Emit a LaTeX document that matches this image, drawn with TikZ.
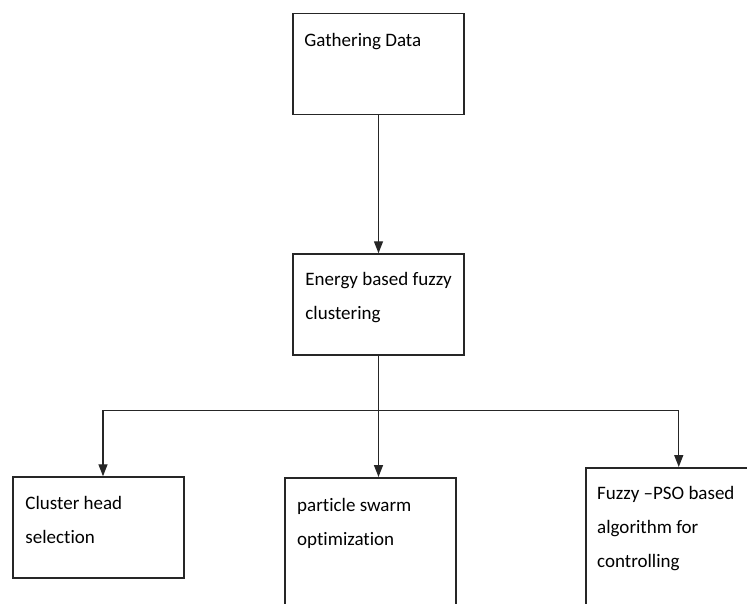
\documentclass[tikz,border=0pt]{standalone}
\usepackage{fontspec}
\setmainfont{Carlito}[Ligatures={NoCommon}]
\usetikzlibrary{positioning,arrows.meta}

\begin{document}
\begin{tikzpicture}[x=1pt,y=-1pt,
    box/.style={draw=black!85, line width=1.5pt, minimum width=171pt,
      minimum height=101pt, inner sep=0pt},
    lbl/.style={anchor=base west, align=left, inner sep=0pt,
      font=\fontsize{19}{34}\selectfont},
    flow/.style={draw=black!85, line width=1.4pt,
      -{Triangle[length=12pt,width=9pt]}}]
        \clip (0,0) rectangle (747,603);

        % boxes
        \node[box] (gather) at (378.5,64) {};
        \node[box, below=138pt of gather] (energy) {};
        \node[box] (cluster) at (98.5,527.5) {};
        \node[box, minimum height=150pt, anchor=north west] (pso) at (284,477) {};
        \node[box, minimum height=160pt, anchor=north west] (fuzzy) at (585,467) {};

        % texts (anchored at the baseline of the last line)
        \node[lbl] (gathertxt) at ([shift={(12,34)}]gather.north west) {Gathering Data};
        \node[lbl] (energytxt) at ([shift={(13,66)}]energy.north west)
          {Energy based fuzzy\\clustering};
        \node[lbl] (clustertxt) at ([shift={(13,67)}]cluster.north west)
          {Cluster head\\selection};
        \node[lbl] (psotxt) at ([shift={(13,68)}]pso.north west)
          {particle swarm\\optimization};
        \node[lbl] (fuzzytxt) at ([shift={(12,100)}]fuzzy.north west)
          {Fuzzy –PSO based\\algorithm for\\controlling};

        % arrows
        \coordinate[below=55pt of energy.south] (split);
        \draw[flow] (gather) -- (energy);
        \draw[flow] (energy.south) -- (split) -| ([xshift=4.5pt]cluster.north);
        \draw[flow] (split) -- (split |- pso.north);
        \draw[flow] (split) -| ([xshift=7.5pt]fuzzy.north);
      \end{tikzpicture}
\end{document}
